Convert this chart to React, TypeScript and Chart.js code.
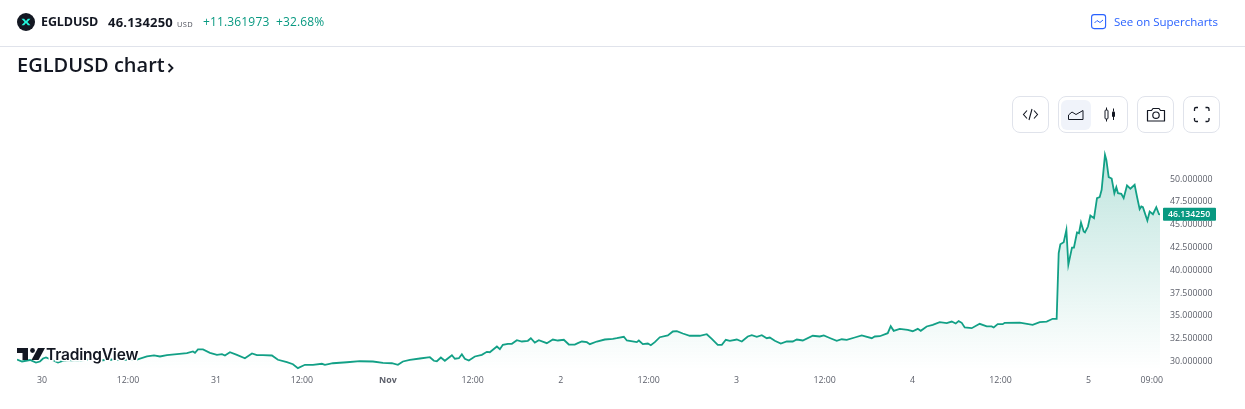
import React, { useEffect, useRef } from "react";
import { Chart, registerables } from "chart.js";

Chart.register(...registerables);

const symbol = "EGLDUSD";
const lastPriceLabel = "46.134250";
const changeLabel = "+11.361973";
const changePctLabel = "+32.68%";

const priceTicks = [30, 32.5, 35, 37.5, 40, 42.5, 45, 47.5, 50];
const timeTickHours = [0, 11.83, 23.93, 35.76, 47.59, 59.26, 71.37, 83.47, 95.57, 107.68, 119.78, 131.88, 144, 152.7];
const timeTickLabels = ["30", "12:00", "31", "12:00", "Nov", "12:00", "2", "12:00", "3", "12:00", "4", "12:00", "5", "09:00"];

const hours = [
  -3.44, -2.75, -1.65, -0.83, -0.28, 0.14, 0.55, 1.38, 2.2, 2.75, 3.85, 5.23, 6.6, 7.98, 9.35, 10.73, 12.1, 13.07,
  14.44, 15.41, 16.23, 17.19, 18.57, 19.94, 20.77, 21.05, 21.46, 22.15, 23.11, 24.07, 24.76, 25.17, 25.86, 26.82,
  27.92, 28.89, 29.57, 30.4, 31.64, 32.46, 33.7, 34.53, 35.21, 36.18, 37.28, 38.51, 38.93, 40.03, 41.95, 43.74,
  45.53, 46.91, 48.14, 48.97, 49.66, 50.62, 52.0, 53.37, 53.92, 54.33, 54.88, 55.43, 56.4, 56.81, 57.36, 57.77,
  58.18, 58.73, 59.56, 60.52, 61.21, 61.62, 62.59, 63.0, 63.41, 64.1, 64.65, 65.34, 66.03, 66.85, 67.26, 67.81,
  68.36, 69.46, 70.29, 70.98, 71.8, 72.49, 73.31, 73.73, 74.28, 74.97, 75.38, 76.34, 77.44, 78.54, 79.09, 80.06,
  80.47, 81.84, 82.12, 82.67, 83.36, 83.77, 84.32, 85.01, 86.11, 86.8, 87.35, 88.17, 89.13, 90.51, 91.47, 92.16,
  92.98, 93.54, 94.09, 94.64, 95.6, 96.29, 97.11, 97.66, 98.35, 99.04, 99.72, 100.14, 100.83, 101.65, 102.48,
  103.3, 103.85, 104.68, 106.05, 107.02, 107.57, 108.39, 109.35, 110.04, 110.73, 111.83, 112.79, 114.17, 114.58,
  115.27, 116.37, 116.78, 117.19, 118.02, 119.12, 119.81, 120.5, 120.91, 121.73, 122.56, 123.52, 124.49, 125.17,
  125.72, 126.13, 126.55, 126.96, 127.92, 129.02, 129.99, 130.67, 130.95, 131.5, 132.19, 132.46, 134.53, 136.31,
  137.28, 138.24, 139.06, 139.61, 139.89, 140.12, 140.58, 140.95, 141.22, 141.72, 141.99, 142.41, 142.68, 142.96,
  143.33, 143.51, 143.92, 144.25, 144.75, 145.16, 145.53, 145.8, 146.26, 146.45, 146.77, 147.18, 147.55, 147.82,
  148.05, 148.51, 148.83, 149.29, 149.75, 150.34, 150.66, 151.03, 151.26, 151.48, 152.09, 152.41, 152.86, 153.32,
  153.69, 153.83,
];

const prices = [
  30.22, 30.0, 30.16, 29.89, 30.0, 30.33, 30.44, 30.16, 29.89, 30.05, 30.16, 30.11, 30.22, 30.11, 30.22, 30.16, 30.22, 30.22,
  30.55, 30.66, 30.55, 30.71, 30.8, 30.91, 31.1, 30.95, 31.32, 31.32, 30.95, 30.73, 30.8, 30.66, 31.02, 30.73,
  30.36, 30.88, 30.69, 30.69, 30.66, 30.19, 29.92, 29.7, 29.27, 29.64, 29.64, 29.75, 29.64, 29.81, 29.92, 30.03,
  30.0, 29.86, 29.81, 29.64, 30.0, 30.19, 30.33, 30.47, 30.08, 30.03, 30.44, 30.08, 30.69, 30.3, 30.36, 30.8,
  30.3, 30.11, 30.55, 30.73, 31.06, 31.02, 31.64, 31.35, 31.83, 31.94, 31.94, 32.33, 32.19, 32.27, 32.55, 32.08,
  32.33, 32.01, 32.41, 32.3, 32.38, 31.86, 31.86, 32.01, 32.19, 32.12, 31.9, 32.19, 32.41, 32.49, 32.55, 32.71,
  32.3, 32.12, 32.3, 31.9, 31.97, 31.79, 32.12, 32.66, 32.85, 33.29, 33.32, 33.07, 32.82, 32.82, 32.99, 32.49,
  31.83, 31.83, 32.38, 32.27, 32.41, 32.19, 32.74, 32.88, 32.71, 32.88, 32.55, 32.63, 32.27, 31.97, 32.19,
  32.19, 32.41, 32.3, 32.82, 32.74, 32.85, 32.58, 32.27, 32.44, 32.38, 32.63, 32.85, 32.55, 32.74,
  32.77, 33.1, 33.87, 33.36, 33.58, 33.47, 33.32, 33.58, 33.36, 33.84, 34.02, 34.31, 34.2, 34.38,
  34.16, 34.42, 34.24, 33.73, 33.65, 34.13, 33.84, 33.84, 33.73, 34.09, 34.09, 34.24, 34.27, 34.02,
  34.31, 34.38, 34.68, 34.68, 41.87, 42.85, 43.07, 44.43, 40.6, 42.49, 42.49, 44.14, 44.06, 45.23,
  44.25, 44.14, 44.79, 46.0, 45.7, 47.9, 48.01, 48.82, 52.65, 52.1, 50.2, 50.05, 48.44, 49.1,
  48.44, 48.38, 47.9, 49.29, 48.93, 49.36, 48.08, 46.69, 46.99, 46.91, 45.45, 46.44, 46.14, 46.91,
  46.14, 46.13425,
];

const FONT = "'Open Sans', sans-serif";
const GREEN = "#089981";

const lastPriceTag = {
  id: "lastPriceTag",
  afterDraw(chart: any) {
    const { ctx, scales } = chart;
    const y = scales.y.getPixelForValue(prices[prices.length - 1]);
    ctx.save();
    ctx.fillStyle = GREEN;
    ctx.beginPath();
    ctx.roundRect(1163, y - 6.5, 53, 13, 1);
    ctx.fill();
    ctx.fillStyle = "#fff";
    ctx.font = `600 8.7px ${FONT}`;
    ctx.textBaseline = "middle";
    ctx.textAlign = "left";
    ctx.fillText(lastPriceLabel, 1168, y + 0.5);
    ctx.restore();
  },
};

const btn: React.CSSProperties = {
  position: "absolute",
  top: 96,
  height: 37,
  boxSizing: "border-box",
  border: "1px solid #e0e3eb",
  borderRadius: 8,
  background: "#fff",
};

const iconBox: React.CSSProperties = { display: "block", marginTop: 1 };

const abs = (left: number, top: number, extra: React.CSSProperties = {}): React.CSSProperties => ({
  position: "absolute",
  left,
  top,
  whiteSpace: "nowrap",
  ...extra,
});

export default function App() {
  const ref = useRef<HTMLCanvasElement | null>(null);

  useEffect(() => {
    if (!ref.current) return;
    const chart = new Chart(ref.current, {
      type: "line",
      data: {
        datasets: [
          {
            data: hours.map((h, i) => ({ x: h, y: prices[i] })),
            borderColor: "#12a086",
            borderWidth: 1.8,
            pointRadius: 0,
            tension: 0,
            fill: "start",
            backgroundColor: (c: any) => {
              const g = c.chart.ctx.createLinearGradient(0, 150, 0, 370);
              g.addColorStop(0, "rgba(8,153,129,0.26)");
              g.addColorStop(1, "rgba(8,153,129,0)");
              return g;
            },
          },
        ],
      },
      options: {
        animation: false,
        responsive: false,
        devicePixelRatio: 1,
        layout: { padding: { left: 17, top: 141.5, right: 0, bottom: 0 } },
        plugins: { legend: { display: false }, tooltip: { enabled: false } },
        scales: {
          x: {
            type: "linear",
            min: -3.44,
            max: 153.83,
            grid: { display: false, drawTicks: false },
            border: { display: false },
            afterBuildTicks: (s: any) => {
              s.ticks = timeTickHours.map((v) => ({ value: v }));
            },
            afterFit: (s: any) => {
              s.height = 37.5;
            },
            ticks: {
              autoSkip: false,
              maxRotation: 0,
              padding: 3.5,
              color: "#5d606b",
              font: (c: any) => ({
                family: FONT,
                size: 8.8,
                weight: timeTickLabels[c.index] === "Nov" ? 700 : 400,
              }),
              callback: (_v: any, i: number) => timeTickLabels[i],
            },
          },
          y: {
            position: "right",
            min: 28.904,
            max: 54.11,
            grid: { display: false, drawTicks: false },
            border: { display: false },
            afterBuildTicks: (s: any) => {
              s.ticks = priceTicks.map((v) => ({ value: v }));
            },
            afterFit: (s: any) => {
              s.width = 85;
            },
            ticks: {
              autoSkip: false,
              padding: 10,
              color: "#5d606b",
              font: { family: FONT, size: 8.8 },
              callback: (v: any) => Number(v).toFixed(6),
            },
          },
        },
      },
      plugins: [lastPriceTag],
    } as any);
    return () => chart.destroy();
  }, []);

  return (
    <div style={{ position: "absolute", left: 0, top: 0, width: 1245, height: 409, background: "#fff", overflow: "hidden", fontFamily: FONT, color: "#131722" }}>
      <canvas ref={ref} width={1245} height={409} style={{ position: "absolute", left: 0, top: 0, width: 1245, height: 409 }} />

      <svg width="18" height="18" viewBox="0 0 18 18" style={abs(17, 13)}>
        <circle cx="9" cy="9" r="9" fill="#131722" />
        <path d="M4.5 5.7h2.6L9 7.9l1.9-2.2h2.6L10.4 9l3.1 3.3h-2.6L9 10.1l-1.9 2.2H4.5L7.6 9z" fill="#23f7dd" />
      </svg>
      <div style={abs(41, 13, { fontSize: 12.5, fontWeight: 700, lineHeight: "18px", letterSpacing: -0.1 })}>{symbol}</div>
      <div style={abs(108, 13, { fontSize: 13, fontWeight: 700, lineHeight: "18px", letterSpacing: 0.2 })}>{lastPriceLabel}</div>
      <div style={abs(177, 17, { fontSize: 7.5, color: "#50535e", lineHeight: "14px", letterSpacing: 0.3 })}>USD</div>
      <div style={abs(203, 13, { fontSize: 12, color: GREEN, lineHeight: "18px", letterSpacing: 0.15 })}>{changeLabel}</div>
      <div style={abs(276, 13, { fontSize: 12, color: GREEN, lineHeight: "18px", letterSpacing: 0.15 })}>{changePctLabel}</div>

      <svg width="16" height="16" viewBox="0 0 16 16" style={abs(1091, 14)}>
        <rect x="0.6" y="0.6" width="14" height="14" rx="2.5" fill="none" stroke="#2962ff" strokeWidth="1.1" />
        <path d="M3.5 9 L6 6.5 L9 8.5 L12 6" fill="none" stroke="#2962ff" strokeWidth="1" />
      </svg>
      <div style={abs(1114, 13, { fontSize: 11.5, color: "#2962ff", lineHeight: "18px" })}>See on Supercharts</div>

      <div style={abs(0, 46, { width: 1245, height: 1, background: "#e0e3eb" })} />

      <div style={abs(17, 51, { fontSize: 20, fontWeight: 600, lineHeight: "28px" })}>{symbol} chart</div>
      <svg width="10" height="14" viewBox="0 0 10 14" style={abs(166, 61)}>
        <path d="M2.5 3 L6.5 7 L2.5 11" fill="none" stroke="#131722" strokeWidth="1.8" />
      </svg>

      <div style={{ ...btn, left: 1012, width: 37 }}>
        <svg width="35" height="33" viewBox="0 0 35 33" style={iconBox}>
          <path d="M14 12.5 L10.5 16.5 L14 20.5 M21 12.5 L24.5 16.5 L21 20.5 M19 11 L16 22" fill="none" stroke="#131722" strokeWidth="1.1" />
        </svg>
      </div>
      <div style={{ ...btn, left: 1058, width: 70 }}>
        <div style={{ position: "absolute", left: 2, top: 3, width: 30, height: 30, borderRadius: 6, background: "#f0f3fa" }} />
        <svg width="68" height="33" viewBox="0 0 68 33" style={{ position: "absolute", left: 0, top: 1 }}>
          <path d="M9.5 21.5 V17 L13 14 L17 16.5 L24 12.5 V21.5 Z" fill="none" stroke="#131722" strokeWidth="1" />
          <rect x="46" y="12" width="3" height="9" rx="1" fill="none" stroke="#131722" strokeWidth="1" />
          <path d="M47.5 9.5 V12 M47.5 21 V23.5 M54.5 10.5 V13.5 M54.5 19 V22" stroke="#131722" strokeWidth="1" />
          <rect x="53" y="13.5" width="3" height="5.5" rx="1" fill="#131722" />
        </svg>
      </div>
      <div style={{ ...btn, left: 1137, width: 37 }}>
        <svg width="35" height="33" viewBox="0 0 35 33" style={iconBox}>
          <path d="M9.5 12.5 H13.5 L15 10.5 H21 L22.5 12.5 H26.5 V23 H9.5 Z" fill="none" stroke="#131722" strokeWidth="1.2" strokeLinejoin="round" />
          <circle cx="18" cy="17.2" r="3.2" fill="none" stroke="#131722" strokeWidth="1.2" />
        </svg>
      </div>
      <div style={{ ...btn, left: 1183, width: 37 }}>
        <svg width="35" height="33" viewBox="0 0 35 33" style={iconBox}>
          <path d="M10.5 13 V11 Q10.5 9.5 12 9.5 H14 M21.5 9.5 H23.5 Q25 9.5 25 11 V13 M25 20 V22 Q25 23.5 23.5 23.5 H21.5 M14 23.5 H12 Q10.5 23.5 10.5 22 V20" fill="none" stroke="#131722" strokeWidth="1.3" />
        </svg>
      </div>

      <svg width="125" height="20" viewBox="0 0 125 20" style={abs(16, 344)}>
        <path d="M1 4 H12 V16 H6.5 V9 H1 Z" fill="#131722" />
        <circle cx="16.5" cy="6.5" r="2.4" fill="#131722" />
        <path d="M22 4 H29 L22.5 16 H15.5 Z" fill="#131722" />
        <text x="30" y="15.5" fontFamily="Inter, sans-serif" fontSize="15.5" fontWeight="600" fill="#131722" stroke="#fff" strokeWidth="3" paintOrder="stroke" letterSpacing="-0.2">TradingView</text>
      </svg>
    </div>
  );
}
